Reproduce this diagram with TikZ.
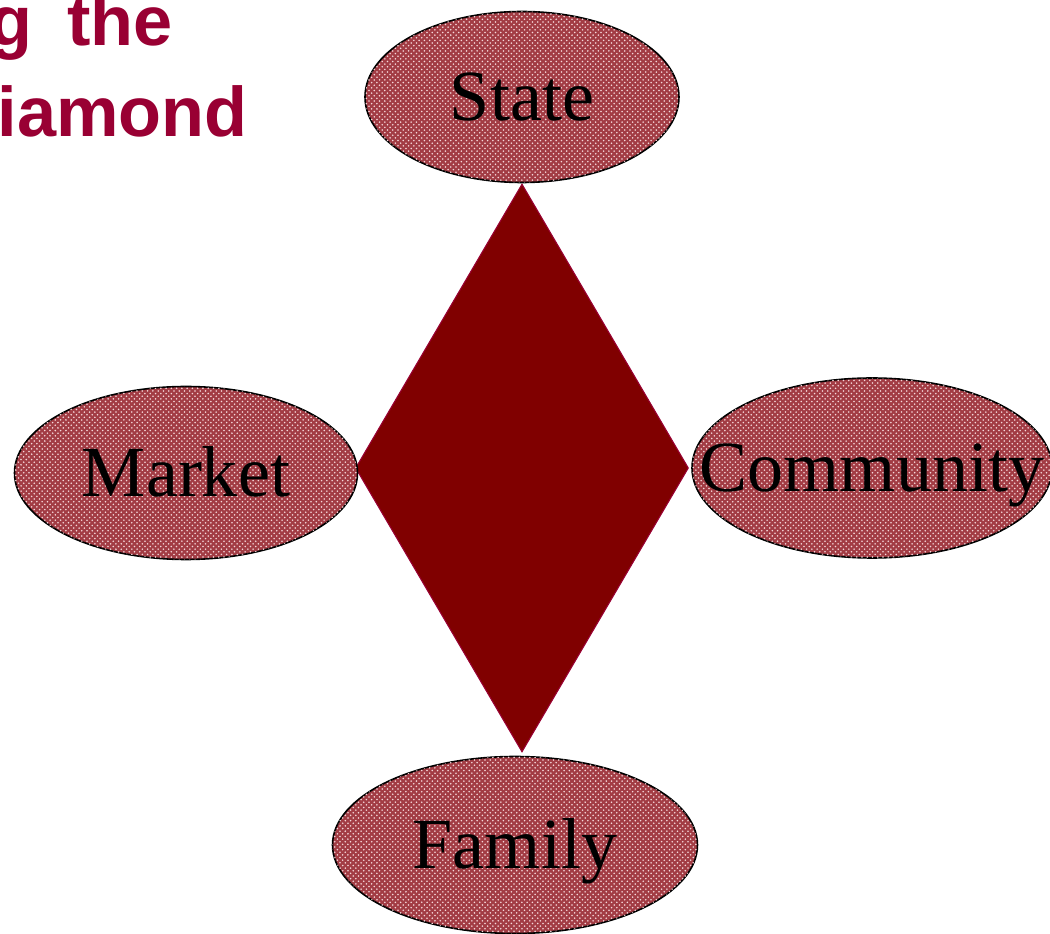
\documentclass[tikz,border=0pt]{standalone}
\usepackage{fontspec}
\setmainfont{Liberation Serif}
\newfontfamily\headfont{Liberation Sans}
\usepackage{tikz}
\usetikzlibrary{shapes.geometric, patterns}
\definecolor{wine}{RGB}{128, 0, 0}
\definecolor{crimsonedge}{RGB}{153, 0, 51}
\definecolor{entityred}{RGB}{162, 60, 68}
\definecolor{speckle}{RGB}{245, 215, 218}

\begin{document}
\begin{tikzpicture}[
    entity/.style={
        ellipse, draw=black, line width=0.9pt, fill=entityred,
        postaction={pattern=crosshatch dots, pattern color=speckle},
        inner sep=0pt
    },
    etext/.style={font=\fontsize{41}{41}\selectfont, text height=27pt, text depth=0pt, inner sep=0pt},
    core/.style={
        diamond, draw=crimsonedge, fill=wine, line width=0.6pt,
        inner sep=0pt, minimum width=6.66cm, minimum height=11.36cm
    },
    heading/.style={font=\headfont\bfseries\fontsize{40}{40}\selectfont, text=crimsonedge, anchor=base east, inner sep=0pt}
]

\clip (-10.44,-9.32) rectangle (10.56,9.36);

% Heading (runs off the left edge)
\node[heading] (head1) at (-6.98, 8.44) {g\hspace{0.3cm} the};
\node[heading] (head2) at (-5.48, 6.62) {iamond};

% Centre diamond
\node[core] (centre) at (0,0) {};

% Ellipses
\node[entity, minimum width=6.28cm, minimum height=3.42cm] (state) at (0, 7.42) {};
\node[entity, minimum width=6.86cm, minimum height=3.46cm] (market) at (-6.72, -0.1) {};
\node[entity, minimum width=7.2cm, minimum height=3.6cm] (community) at (7.0, 0) {};
\node[entity, minimum width=7.3cm, minimum height=3.54cm] (family) at (-0.14, -7.54) {};

% Labels
\node[etext] (statetext) at (state) {State};
\node[etext] (markettext) at (market) {Market};
\node[etext] (communitytext) at (community) {Community};
\node[etext] (familytext) at (family) {Family};

\end{tikzpicture}
\end{document}
